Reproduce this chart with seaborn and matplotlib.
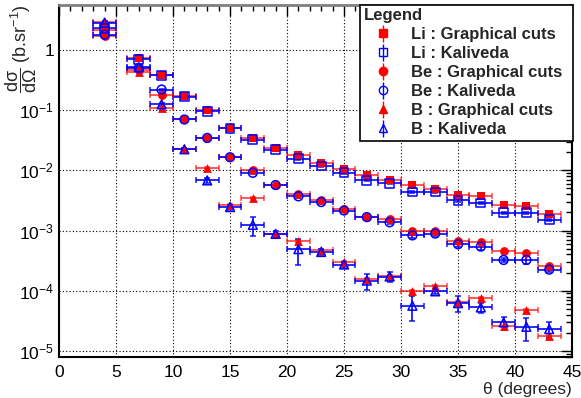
import numpy as np
import pandas as pd
import seaborn as sns
import matplotlib.pyplot as plt
from matplotlib.ticker import FixedLocator, LogLocator, NullFormatter, MultipleLocator

# Angle bins (degrees) and half widths
theta = [4, 7, 9, 11, 13, 15, 17, 19, 21, 23, 25, 27, 29, 31, 33, 35, 37, 39, 41, 43]
theta_err = [1] * len(theta)

# Cross sections (b/sr)
li_gc = [2.15, 0.75, 0.39, 0.171, 0.100, 0.051, 0.0346, 0.0236, 0.0178, 0.0133,
         0.0107, 0.00825, 0.0068, 0.00577, 0.00495, 0.00383, 0.00369, 0.00268, 0.00251, 0.0019]
li_k = [2.3, 0.70, 0.38, 0.168, 0.096, 0.050, 0.0325, 0.0221, 0.0157, 0.0118,
        0.0092, 0.0068, 0.0061, 0.00435, 0.00435, 0.00316, 0.00286, 0.00197, 0.00197, 0.00151]
be_gc = [1.73, 0.46, 0.178, 0.070, 0.0346, 0.0167, 0.0100, 0.0058, 0.0040, 0.00325,
         0.0023, 0.00167, 0.00156, 0.00098, 0.00098, 0.00068, 0.000655, 0.00045, 0.000425, 0.000261]
be_k = [1.80, 0.50, 0.22, 0.070, 0.0346, 0.0165, 0.0091, 0.0057, 0.0037, 0.00297,
        0.00215, 0.00167, 0.00137, 0.00083, 0.00089, 0.00059, 0.00054, 0.000324, 0.000324, 0.000224]
b_gc = [2.95, 0.43, 0.107, 0.0224, 0.011, 0.00261, 0.0035, 0.00088, 0.00066, 0.00047,
        0.000304, 0.000155, 0.000178, 0.0000975, 0.000121, 0.000064, 0.0000755, 0.0000255, 0.0000483, 0.0000178]
b_k = [2.85, 0.52, 0.125, 0.0224, 0.0068, 0.00245, 0.00124, 0.00088, 0.00049, 0.00044,
       0.000272, 0.000147, 0.000172, 0.0000562, 0.0000975, 0.000062, 0.0000527, 0.0000297, 0.0000251, 0.000023]

# relative y errors (only visible ones really matter)
rel_err_gc = [0.04] * len(theta)
be_k_rel = [0.04, 0.04, 0.04, 0.04, 0.04, 0.04, 0.05, 0.05, 0.06, 0.06,
            0.06, 0.06, 0.08, 0.08, 0.08, 0.1, 0.12, 0.08, 0.15, 0.08]
li_k_rel = [0.04] * len(theta)
b_k_rel = [0.05, 0.05, 0.05, 0.05, 0.08, 0.1, 0.35, 0.1, 0.45, 0.12,
           0.12, 0.3, 0.2, 0.45, 0.1, 0.3, 0.2, 0.25, 0.42, 0.3]

labels = ["Li : Graphical cuts", "Li : Kaliveda", "Be : Graphical cuts",
          "Be : Kaliveda", "B : Graphical cuts", "B : Kaliveda"]
yticks = [1e-5, 1e-4, 1e-3, 1e-2, 1e-1, 1]
ytick_labels = ["$10^{-5}$", "$10^{-4}$", "$10^{-3}$", "$10^{-2}$", "$10^{-1}$", "1"]

series = [
    (li_gc, rel_err_gc, "s", "red", True),
    (li_k, li_k_rel, "s", "blue", False),
    (be_gc, rel_err_gc, "o", "red", True),
    (be_k, be_k_rel, "o", "blue", False),
    (b_gc, rel_err_gc, "^", "red", True),
    (b_k, b_k_rel, "^", "blue", False),
]

sns.set_theme(style="white")
plt.rcParams['font.family'] = ['Liberation Sans', 'DejaVu Sans']
plt.rcParams['mathtext.fontset'] = 'custom'
plt.rcParams['mathtext.rm'] = 'Liberation Sans'
plt.rcParams['mathtext.it'] = 'Liberation Sans:italic'
plt.rcParams['mathtext.bf'] = 'Liberation Sans:bold'

fig = plt.figure(figsize=(5.81, 3.98), dpi=100)
ax = fig.add_axes([59 / 581, 1 - 357 / 398, 513 / 581, 352 / 398])

handles = []
for (vals, rel, mk, col, filled), lab in zip(series, labels):
    y = np.array(vals)
    yerr = y * np.array(rel)
    ax.errorbar(theta, y, xerr=theta_err, yerr=yerr, fmt="none", ecolor=col,
                elinewidth=1.3, capsize=2, capthick=1.1, alpha=0.7 if filled else 0.9,
                zorder=2)
    df = pd.DataFrame({"theta": theta, "xs": y})
    if filled:
        sns.scatterplot(data=df, x="theta", y="xs", marker=mk, color=col,
                        s=40, linewidth=0, ax=ax, zorder=3)
    else:
        sns.scatterplot(data=df, x="theta", y="xs", marker=mk, color=col,
                        facecolor="none", edgecolor=col, s=40, linewidth=1.1,
                        ax=ax, zorder=4)
    h = ax.errorbar([np.nan], [np.nan], yerr=[1], fmt=mk, color=col,
                    mfc=col if filled else "none", mec=col, ms=6, elinewidth=1,
                    capsize=0)
    handles.append(h)

ax.set_yscale("log")
ax.set_xlim(0, 45)
ax.set_ylim(7.9e-6, 5.6)

ax.yaxis.set_major_locator(FixedLocator(yticks))
ax.set_yticklabels(ytick_labels)
ax.yaxis.set_minor_locator(LogLocator(base=10, subs=np.arange(2, 10), numticks=20))
ax.yaxis.set_minor_formatter(NullFormatter())
ax.xaxis.set_major_locator(MultipleLocator(5))
ax.xaxis.set_minor_locator(MultipleLocator(1))

ax.tick_params(which="both", direction="in", top=True, right=True, colors="black",
               labelsize=12.5)
ax.tick_params(which="major", length=8, width=1)
ax.tick_params(which="minor", length=4, width=1)
ax.tick_params(axis="x", which="major", pad=6)

ax.grid(True, which="major", color="black", linestyle=(0, (1, 2)), linewidth=0.8)
for side in ["left", "bottom", "right"]:
    ax.spines[side].set_color("black")
    ax.spines[side].set_linewidth(1.5)
ax.spines["top"].set_color("#808080")
ax.spines["top"].set_linewidth(2)

ax.set_xlabel("θ (degrees)", loc="right", fontsize=12.5, labelpad=1)
ax.set_ylabel("")
fig.text(21 / 581, 1 - 4 / 398, r"$\dfrac{\mathrm{dσ}}{\mathrm{dΩ}}$ (b.sr$^{-1}$)",
         rotation=90, ha="center", va="top", fontsize=13)

leg = ax.legend(handles, labels, title="Legend", loc="upper left",
                bbox_to_anchor=(0.587, 1.0, 0.415, 0.0), mode="expand",
                frameon=True, fancybox=False, edgecolor="black", framealpha=1,
                prop={"weight": "bold", "size": 12},
                title_fontproperties={"weight": "bold", "size": 12},
                alignment="left", labelspacing=0.24, handletextpad=0.45,
                borderaxespad=0, handlelength=2.4, borderpad=0.2)
leg.get_frame().set_linewidth(1.2)

fig.savefig("out.png", dpi=100)
